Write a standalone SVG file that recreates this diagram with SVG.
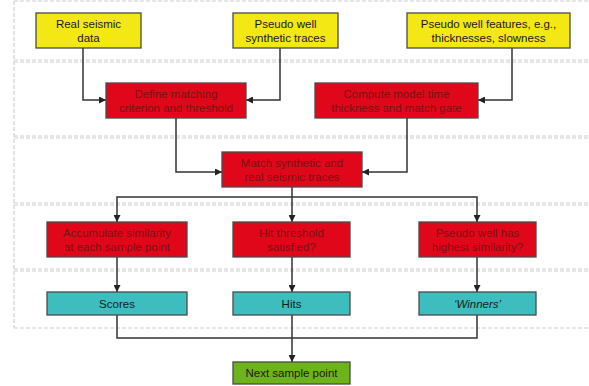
<svg xmlns="http://www.w3.org/2000/svg" width="589" height="386" viewBox="0 0 589 386">
<defs>
<marker id="ah" viewBox="0 0 10 10" refX="10" refY="5" markerWidth="7" markerHeight="7" orient="auto" markerUnits="userSpaceOnUse">
<path d="M0,0 L10,5 L0,10 z" fill="#222"/>
</marker>
</defs>
<style>
.band{fill:none;stroke:#cfcfcf;stroke-width:1.2;stroke-dasharray:4 2}
.box{stroke:#4a4a4a;stroke-width:1.3}
.y{fill:#f3e714}
.r{fill:#e1071b}
.t{fill:#3dbdbd}
.g{fill:#6db31c}
text{font-family:"Liberation Sans",Arial,sans-serif;font-size:11.5px;text-anchor:middle}
.dk{fill:#1a1a1a}
.rt{fill:#7a1010}
.c{fill:none;stroke:#333;stroke-width:1.5}
</style>
<g id="bands">
<line class="band" x1="14" y1="1" x2="589" y2="1"/>
<line class="band" x1="14" y1="1" x2="14" y2="328"/>
<line class="band" x1="14" y1="60" x2="589" y2="60"/>
<line class="band" x1="14" y1="62" x2="589" y2="62"/>
<line class="band" x1="14" y1="136" x2="589" y2="136"/>
<line class="band" x1="14" y1="138" x2="589" y2="138"/>
<line class="band" x1="14" y1="203" x2="589" y2="203"/>
<line class="band" x1="14" y1="205" x2="589" y2="205"/>
<line class="band" x1="14" y1="269" x2="589" y2="269"/>
<line class="band" x1="14" y1="271" x2="589" y2="271"/>
<line class="band" x1="14" y1="328" x2="589" y2="328"/>
</g>
<g id="connectors">
<polyline class="c" points="83,48 83,100 106,100" marker-end="url(#ah)"/>
<polyline class="c" points="280,48 280,100 246,100" marker-end="url(#ah)"/>
<polyline class="c" points="512,48 512,100 478,100" marker-end="url(#ah)"/>
<polyline class="c" points="176,118 176,172 222,172" marker-end="url(#ah)"/>
<polyline class="c" points="407,118 407,172 362,172" marker-end="url(#ah)"/>
<polyline class="c" points="292,187 292,222" marker-end="url(#ah)"/>
<polyline class="c" points="292,197 117,197 117,222" marker-end="url(#ah)"/>
<polyline class="c" points="292,197 477,197 477,222" marker-end="url(#ah)"/>
<polyline class="c" points="117,257 117,292" marker-end="url(#ah)"/>
<polyline class="c" points="292,257 292,292" marker-end="url(#ah)"/>
<polyline class="c" points="477,257 477,292" marker-end="url(#ah)"/>
<polyline class="c" points="117,315 117,338 477,338 477,315"/>
<polyline class="c" points="292,315 292,362" marker-end="url(#ah)"/>
</g>
<g id="real-seismic">
<rect class="box y" x="36" y="13" width="105" height="35"/>
<text class="dk" x="88.5" y="28">Real seismic</text>
<text class="dk" x="88.5" y="42">data</text>
</g>
<g id="pseudo-traces">
<rect class="box y" x="233" y="13" width="105" height="35"/>
<text class="dk" x="285.5" y="28">Pseudo well</text>
<text class="dk" x="285.5" y="42">synthetic traces</text>
</g>
<g id="pseudo-features">
<rect class="box y" x="407" y="13" width="163" height="35"/>
<text class="dk" x="488.5" y="28">Pseudo well features, e.g.,</text>
<text class="dk" x="488.5" y="42">thicknesses, slowness</text>
</g>
<g id="define">
<rect class="box r" x="106" y="83" width="140" height="35"/>
<text class="rt" x="176" y="98">Define matching</text>
<text class="rt" x="176" y="112">criterion and threshold</text>
</g>
<g id="compute">
<rect class="box r" x="315" y="83" width="163" height="35"/>
<text class="rt" x="396.5" y="98">Compute model time</text>
<text class="rt" x="396.5" y="112">thickness and match gate</text>
</g>
<g id="match">
<rect class="box r" x="222" y="152" width="140" height="35"/>
<text class="rt" x="292" y="167">Match synthetic and</text>
<text class="rt" x="292" y="181">real seismic traces</text>
</g>
<g id="accumulate">
<rect class="box r" x="47" y="222" width="140" height="35"/>
<text class="rt" x="117" y="237">Accumulate similarity</text>
<text class="rt" x="117" y="251">at each sample point</text>
</g>
<g id="hit">
<rect class="box r" x="233" y="222" width="117" height="35"/>
<text class="rt" x="291.5" y="237">Hit threshold</text>
<text class="rt" x="291.5" y="251">satisfied?</text>
</g>
<g id="highest">
<rect class="box r" x="419" y="222" width="117" height="35"/>
<text class="rt" x="477.5" y="237">Pseudo well has</text>
<text class="rt" x="477.5" y="251">highest similarity?</text>
</g>
<g id="scores">
<rect class="box t" x="47" y="292" width="140" height="23"/>
<text class="dk" x="117" y="308">Scores</text>
</g>
<g id="hits">
<rect class="box t" x="233" y="292" width="117" height="23"/>
<text class="dk" x="291.5" y="308">Hits</text>
</g>
<g id="winners">
<rect class="box t" x="419" y="292" width="117" height="23"/>
<text class="dk" x="477.5" y="308" font-style="italic">‘Winners’</text>
</g>
<g id="next">
<rect class="box g" x="233" y="362" width="117" height="22"/>
<text class="dk" x="291.5" y="377">Next sample point</text>
</g>
</svg>
